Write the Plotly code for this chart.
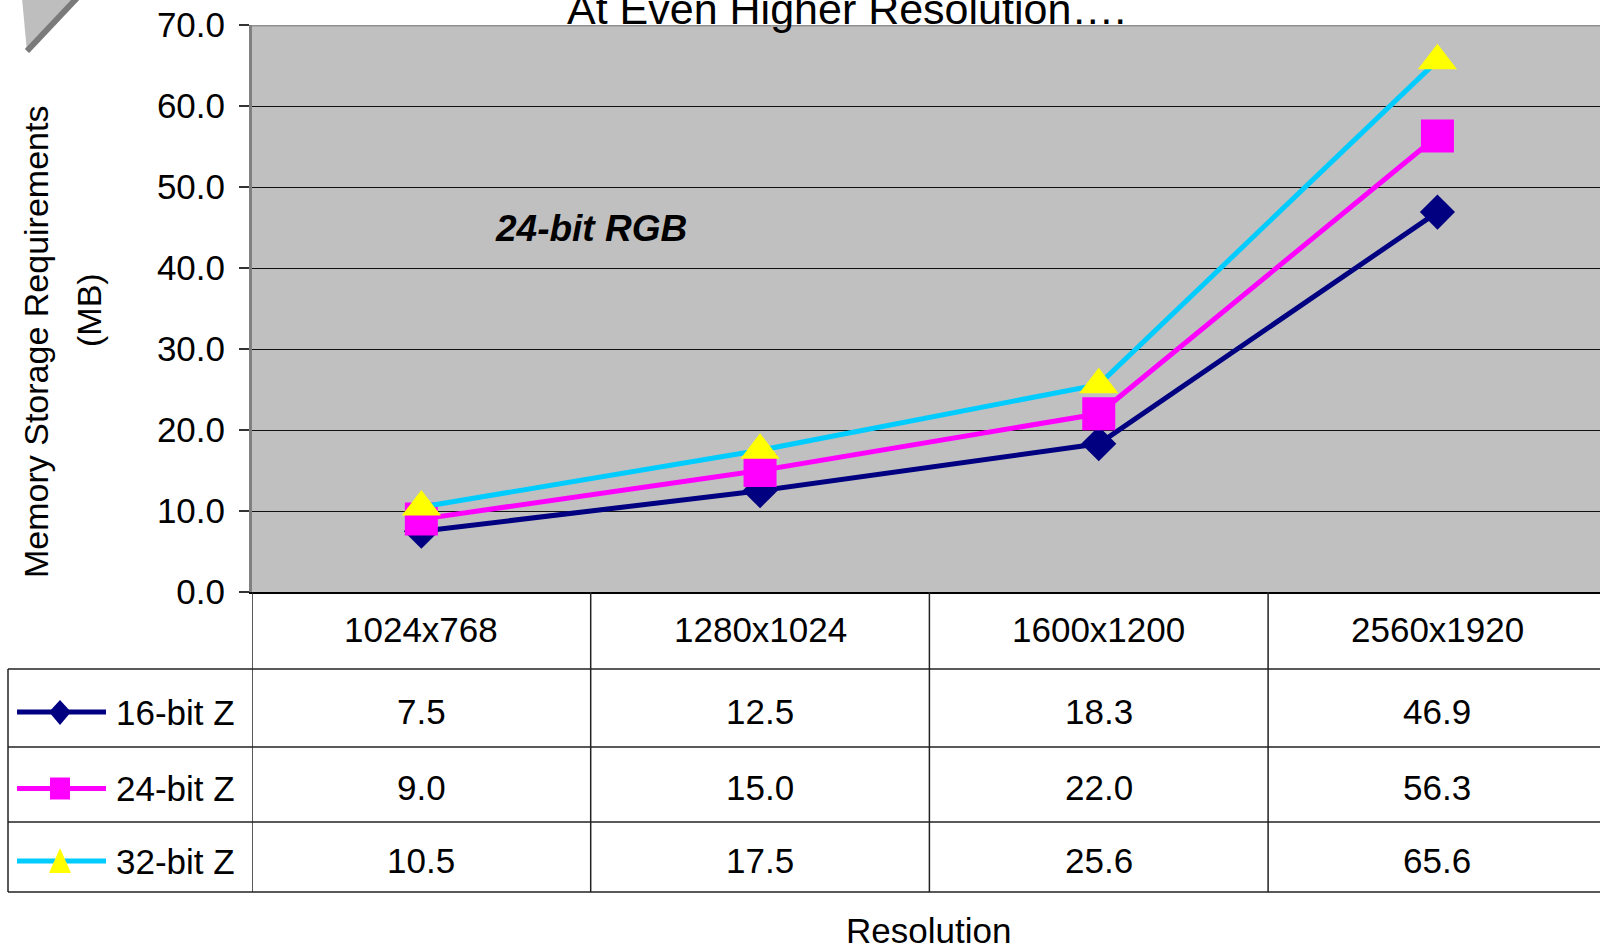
import plotly.graph_objects as go

# ---------------- data ----------------
categories = ["1024x768", "1280x1024", "1600x1200", "2560x1920"]
series_names = ["16-bit Z", "24-bit Z", "32-bit Z"]
z16 = [7.5, 12.5, 18.3, 46.9]
z24 = [9.0, 15.0, 22.0, 56.3]
z32 = [10.5, 17.5, 25.6, 65.6]
y_ticks = [0, 10, 20, 30, 40, 50, 60, 70]

title_text = "At Even Higher Resolution…."
note_text = "24-bit RGB"
y_title_1 = "Memory Storage Requirements"
y_title_2 = "(MB)"
x_title = "Resolution"

# ---------------- styling ----------------
W, H = 1600, 949
FONT = "Liberation Sans Narrow, Arial Narrow, Liberation Sans, Arial, sans-serif"
REG = "Liberation Sans, Arial, sans-serif"
TXT = 35
styles = [
    dict(line="#000080", marker="#000080", symbol="diamond", size=27),
    dict(line="#FF00FF", marker="#FF00FF", symbol="square", size=33),
    dict(line="#00CCFF", marker="#FFFF00", symbol="triangle-up", size=34),
]

PLOT_L, PLOT_R, PLOT_T, PLOT_B = 252, 1600, 25, 592
COL_W = 338.7
ROW_LINES = [669, 747, 822, 892]
TABLE_L = 8


def px(x):
    return x / W


def py(y):
    return 1 - y / H


def poly(points):
    return "M " + " L ".join(f"{px(a)},{py(b)}" for a, b in points) + " Z"


series = [z16, z24, z32]
fig = go.Figure()

for name, vals, st in zip(series_names, series, styles):
    fig.add_trace(go.Scatter(
        x=categories, y=vals, name=name, mode="lines+markers",
        line=dict(color=st["line"], width=5),
        marker=dict(symbol=st["symbol"], size=st["size"], color=st["marker"],
                    line=dict(width=0)),
        showlegend=False, cliponaxis=False,
    ))

shapes = []
# legend keys inside the table (line + marker glyph)
glyphs = [
    lambda cx, cy: [(cx, cy - 12), (cx + 11, cy), (cx, cy + 13), (cx - 11, cy)],
    lambda cx, cy: [(cx - 10, cy - 11), (cx + 10, cy - 11), (cx + 10, cy + 11), (cx - 10, cy + 11)],
    lambda cx, cy: [(cx, cy - 13), (cx + 11, cy + 12), (cx - 11, cy + 12)],
]
for i, (name, st) in enumerate(zip(series_names, styles)):
    yc = (ROW_LINES[i] + ROW_LINES[i + 1]) / 2 + 4
    shapes.append(dict(type="line", xref="paper", yref="paper", x0=px(17), x1=px(106),
                       y0=py(yc), y1=py(yc), line=dict(color=st["line"], width=5)))
    shapes.append(dict(type="path", xref="paper", yref="paper", path=poly(glyphs[i](60, yc)),
                       fillcolor=st["marker"], line=dict(width=0)))
    fig.add_annotation(
        x=px(114), y=py(yc), xref="paper", yref="paper", text=name,
        showarrow=False, xanchor="left", yanchor="middle",
        font=dict(family=FONT, size=TXT, color="black"),
    )

n = len(categories)
# top border of plot
shapes.append(dict(type="line", xref="paper", yref="y", x0=px(PLOT_L), x1=1,
                   y0=max(y_ticks), y1=max(y_ticks), line=dict(color="#909090", width=3)))
# horizontal table lines
for yl in ROW_LINES:
    shapes.append(dict(type="line", xref="paper", yref="paper", x0=px(TABLE_L), x1=1,
                       y0=py(yl), y1=py(yl), line=dict(color="#222222", width=1.5)))
# vertical table lines
shapes.append(dict(type="line", xref="paper", yref="paper", x0=px(TABLE_L), x1=px(TABLE_L),
                   y0=py(ROW_LINES[0]), y1=py(ROW_LINES[-1]), line=dict(color="#222222", width=1.5)))
for i in range(n + 1):
    shapes.append(dict(type="line", xref="x", yref="paper", x0=i - 0.5, x1=i - 0.5,
                       y0=py(PLOT_B), y1=py(ROW_LINES[-1]), line=dict(color="#222222", width=1.5)))
# decorative corner triangle
shapes.append(dict(type="path", xref="paper", yref="paper",
                   path=poly([(22, -2), (78, -2), (27, 52)]),
                   fillcolor="#BEBEBE", line=dict(width=0)))
shapes.append(dict(type="line", xref="paper", yref="paper",
                   x0=px(77), y0=py(-2), x1=px(27), y1=py(51),
                   line=dict(color="#7A7A7A", width=6)))
fig.update_layout(shapes=shapes)

# header row: categories
for i, c in enumerate(categories):
    fig.add_annotation(x=i, xref="x", y=py((PLOT_B + ROW_LINES[0]) / 2 - 1), yref="paper",
                       text=c, showarrow=False, xanchor="center", yanchor="middle",
                       font=dict(family=FONT, size=TXT, color="black"))
# value rows
for r, vals in enumerate(series):
    yc = (ROW_LINES[r] + ROW_LINES[r + 1]) / 2 + 3
    for i, v in enumerate(vals):
        fig.add_annotation(x=i, xref="x", y=py(yc), yref="paper",
                           text=f"{v:.1f}", showarrow=False, xanchor="center", yanchor="middle",
                           font=dict(family=FONT, size=TXT, color="black"))

# title, note, axis titles
fig.add_annotation(x=px(846), y=py(9), xref="paper", yref="paper", text=title_text,
                   showarrow=False, xanchor="center", yanchor="middle",
                   font=dict(family=REG, size=43, color="black"))
fig.add_annotation(x=px(591), y=py(229), xref="paper", yref="paper", text=note_text,
                   showarrow=False, xanchor="center", yanchor="middle",
                   font=dict(family=FONT, size=37, color="black", weight="bold", style="italic"))
fig.add_annotation(x=px(36), y=py(342), xref="paper", yref="paper", text=y_title_1,
                   showarrow=False, textangle=-90, xanchor="center", yanchor="middle",
                   font=dict(family=REG, size=34, color="black"))
fig.add_annotation(x=px(89), y=py(310), xref="paper", yref="paper", text=y_title_2,
                   showarrow=False, textangle=-90, xanchor="center", yanchor="middle",
                   font=dict(family=REG, size=34, color="black"))
fig.add_annotation(x=px(929), y=py(930), xref="paper", yref="paper", text=x_title,
                   showarrow=False, xanchor="center", yanchor="middle",
                   font=dict(family=FONT, size=TXT, color="black"))

fig.update_layout(
    width=W, height=H,
    margin=dict(l=0, r=0, t=0, b=0, pad=0),
    paper_bgcolor="white", plot_bgcolor="#C0C0C0",
    xaxis=dict(domain=[px(PLOT_L), 1], range=[-0.5, -0.5 + (PLOT_R - PLOT_L) / COL_W],
               type="category", showgrid=False, showticklabels=False, ticks="",
               showline=True, linecolor="black", linewidth=2, zeroline=False,
               automargin=False, fixedrange=True),
    yaxis=dict(domain=[py(PLOT_B), py(PLOT_T)], range=[0, max(y_ticks)],
               tickvals=y_ticks, ticktext=[f"{t:.1f}" for t in y_ticks],
               tickfont=dict(family=FONT, size=TXT, color="black"),
               ticks="outside", ticklen=10, tickcolor="#333333", tickwidth=1.5,
               ticklabelstandoff=7,
               showgrid=True, gridcolor="#111111", gridwidth=1,
               showline=True, linecolor="#808080", linewidth=3, zeroline=False,
               automargin=False, fixedrange=True),
    hovermode=False,
)

fig.write_html("out.html")
